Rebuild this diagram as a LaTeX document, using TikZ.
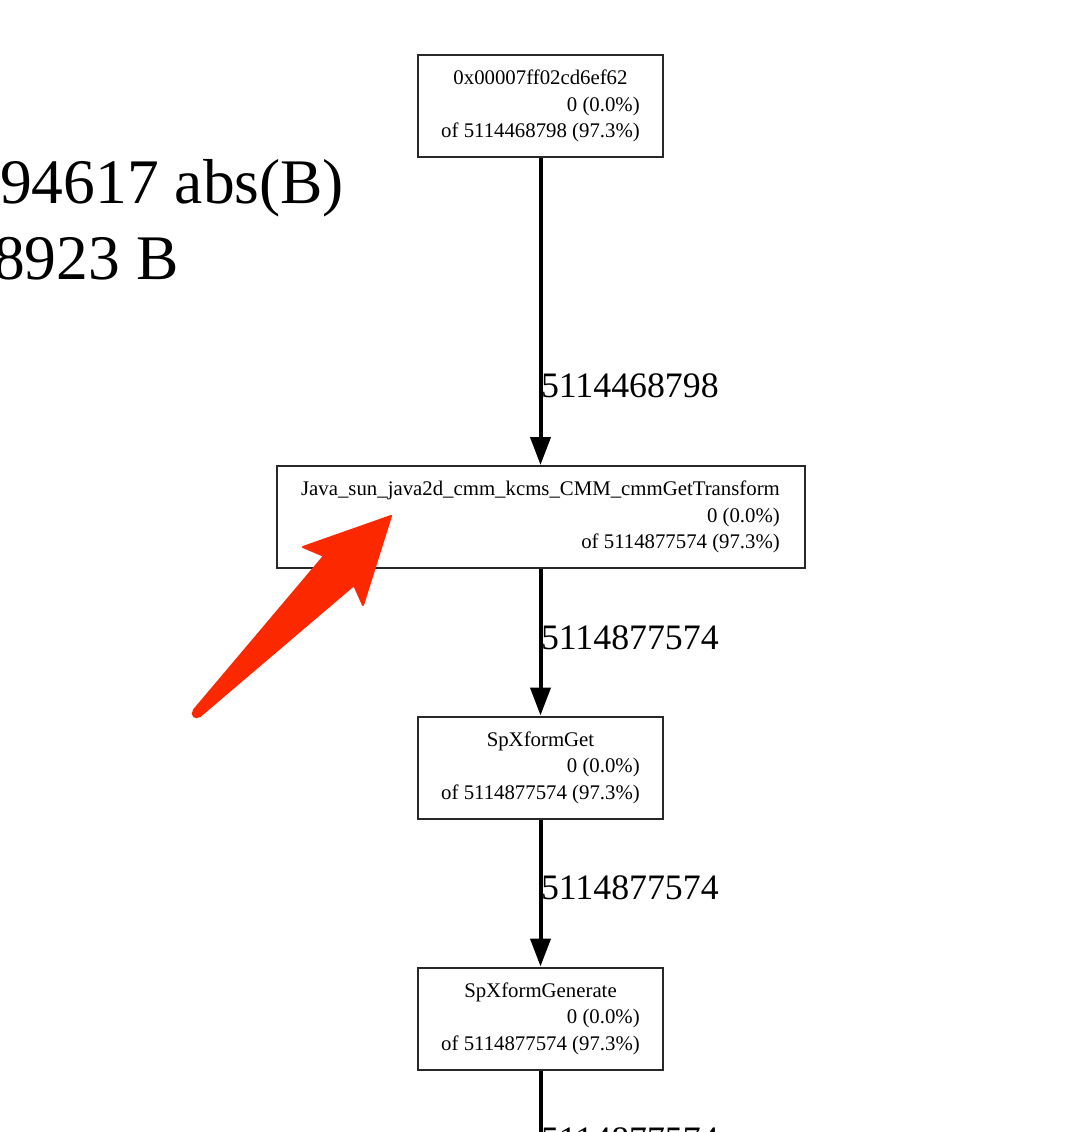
\documentclass[tikz,border=0pt]{standalone}
\usepackage{fontspec}
\setmainfont{Liberation Serif}
\usetikzlibrary{arrows.meta}
\definecolor{skitch}{RGB}{252,40,0}
\definecolor{boxline}{RGB}{40,40,40}
\begin{document}
\begin{tikzpicture}[x=1pt,y=-1pt,
  box/.style={draw=boxline,line width=2pt,fill=white,minimum height=102pt,inner sep=0pt,
              font=\fontsize{20.8}{26.5}\selectfont},
  edge/.style={line width=4pt,-{Triangle[width=20pt,length=28pt]}},
  elabel/.style={anchor=base west,inner sep=0pt,xshift=-1.5pt,font=\fontsize{35.8}{40}\selectfont},
  big/.style={anchor=base west,inner sep=0pt,font=\fontsize{63.5}{70}\selectfont},
  callout/.style={fill=skitch,draw=skitch,line width=2pt,line join=round}]
\useasboundingbox (0,0) rectangle (1066,1132);
\clip (0,0) rectangle (1066,1132);
\fill[white] (0,0) rectangle (1066,1132);

% legend text (cut off at left)
\node[big] (leg1) at (0,203) {94617 abs(B)};
\node[big] (leg2) at (-7,279) {8923 B};

% nodes
\node[box,minimum width=245pt] (n1) at (540.5,106) {\begin{tabular}{@{}r@{}}\multicolumn{1}{@{}c@{}}{0x00007ff02cd6ef62}\\ 0 (0.0\%)\\ of 5114468798 (97.3\%)\end{tabular}};
\node[box,minimum width=528pt] (n2) at (540.5,517) {\begin{tabular}{@{}r@{}}\multicolumn{1}{@{}c@{}}{Java\_sun\_java2d\_cmm\_kcms\_CMM\_cmmGetTransform}\\ 0 (0.0\%)\\ of 5114877574 (97.3\%)\end{tabular}};
\node[box,minimum width=245pt] (n3) at (540.5,767.5) {\begin{tabular}{@{}r@{}}\multicolumn{1}{@{}c@{}}{SpXformGet}\\ 0 (0.0\%)\\ of 5114877574 (97.3\%)\end{tabular}};
\node[box,minimum width=245pt] (n4) at (540.5,1018.5) {\begin{tabular}{@{}r@{}}\multicolumn{1}{@{}c@{}}{SpXformGenerate}\\ 0 (0.0\%)\\ of 5114877574 (97.3\%)\end{tabular}};
\coordinate (n5) at (540.5,1219);

% edges
\draw[edge] (n1) -- node[elabel,pos=0.78] (l1) {5114468798} (n2);
\draw[edge] (n2) -- node[elabel,pos=0.55] (l2) {5114877574} (n3);
\draw[edge] (n3) -- node[elabel,pos=0.547] (l3) {5114877574} (n4);
\draw[edge] (n4) -- node[elabel,pos=0.547] (l4) {5114877574} (n5);

% red callout arrow
\filldraw[callout] (193.5,710.5) -- (324,556) -- (303,547) -- (391,516) -- (363,605) -- (354,585) -- (199.5,716.5) -- cycle;
\fill[skitch] (196.5,713.5) circle (4.8);
\end{tikzpicture}
\end{document}
